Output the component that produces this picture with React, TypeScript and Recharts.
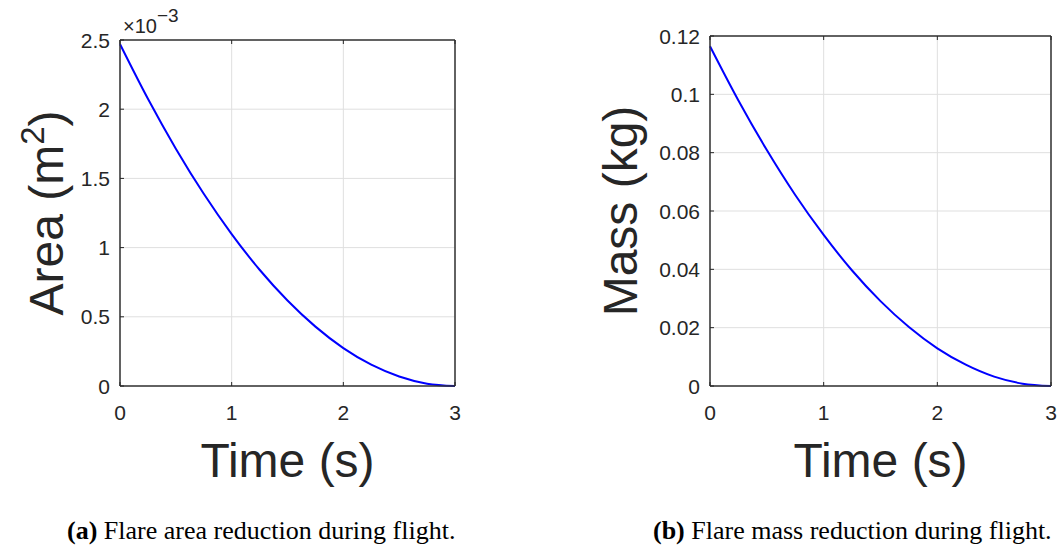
import { LineChart, Line, XAxis, YAxis, CartesianGrid } from 'recharts';

// flight time samples (s)
const timeSeconds = [0, 0.25, 0.5, 0.75, 1, 1.25, 1.5, 1.75, 2, 2.25, 2.5, 2.75, 3];
// flare area, in units of 1e-3 m^2
const areaMilli = [2.47, 2.075, 1.715, 1.389, 1.098, 0.84, 0.618, 0.429, 0.274, 0.154, 0.069, 0.017, 0];
// flare mass (kg)
const massKg = [0.1165, 0.0979, 0.0809, 0.0655, 0.0518, 0.0396, 0.0291, 0.0202, 0.0129, 0.0073, 0.0032, 0.0008, 0];

const timeTicks = [0, 1, 2, 3];
const areaTicks = [0, 0.5, 1, 1.5, 2, 2.5];
const massTicks = [0, 0.02, 0.04, 0.06, 0.08, 0.1, 0.12];

const captions = ['Flare area reduction during flight.', 'Flare mass reduction during flight.'];

const INK = '#262626';
const BOX = '#333333';
const GRID = '#dfdfdf';
const SANS = '"Liberation Sans", Arial, Helvetica, sans-serif';
const SERIF = '"Liberation Serif", "Times New Roman", serif';
const TICK_LEN = 4;
const CHART_H = 500;
const PLOT_BOTTOM = 386;

const areaData = timeSeconds.map((t, i) => ({ t, v: areaMilli[i] }));
const massData = timeSeconds.map((t, i) => ({ t, v: massKg[i] }));

const fmtNum = (v: number) => String(Number(v.toFixed(4)));

function LeftTick({ x, y, payload }: any) {
  return (
    <g>
      <line x1={x} x2={x + TICK_LEN} y1={y} y2={y} stroke={INK} />
      <text x={x - 10} y={y} dy="0.36em" textAnchor="end" fontSize={21} fill={INK} fontFamily={SANS}>
        {fmtNum(payload.value)}
      </text>
    </g>
  );
}

function RightTick({ x, y }: any) {
  return <line x1={x - TICK_LEN} x2={x} y1={y} y2={y} stroke={INK} />;
}

function BottomTick({ x, y, payload }: any) {
  return (
    <g>
      <line x1={x} x2={x} y1={y - TICK_LEN} y2={y} stroke={INK} />
      <text x={x} y={y + 34} textAnchor="middle" fontSize={21} fill={INK} fontFamily={SANS}>
        {payload.value}
      </text>
    </g>
  );
}

function TopTick({ x, y }: any) {
  return <line x1={x} x2={x} y1={y} y2={y + TICK_LEN} stroke={INK} />;
}

interface PanelProps {
  data: { t: number; v: number }[];
  yTicks: number[];
  left: number;
  width: number;
  axisWidth: number;
  top: number;
  rightGap: number;
  titleX: number;
  title: React.ReactNode;
  exponent?: boolean;
}

function Panel({ data, yTicks, left, width, axisWidth, top, rightGap, titleX, title, exponent }: PanelProps) {
  const plotRight = width - rightGap - 5;
  const midX = (axisWidth + plotRight) / 2;
  const midY = (top + PLOT_BOTTOM) / 2;
  const yMax = yTicks[yTicks.length - 1];
  const boxLine = { stroke: BOX, strokeWidth: 1.5 };

  const yTitle = () => (
    <g>
      <text
        x={titleX}
        y={midY}
        textAnchor="middle"
        transform={`rotate(-90, ${titleX}, ${midY})`}
        fontSize={48}
        fill={INK}
        fontFamily={SANS}
      >
        {title}
      </text>
      {exponent && (
        <text x={axisWidth + 3} y={33} fontSize={20} fill={INK} fontFamily={SANS}>
          ×10<tspan fontSize={19} dy={-11}>−3</tspan>
        </text>
      )}
    </g>
  );

  const xTitle = () => (
    <text x={midX} y={477} textAnchor="middle" fontSize={48} fill={INK} fontFamily={SANS}>
      Time (s)
    </text>
  );

  return (
    <div style={{ position: 'absolute', left, top: 0 }}>
      <LineChart width={width} height={CHART_H} data={data} margin={{ top: 0, right: rightGap, bottom: 0, left: 0 }}>
        <CartesianGrid xAxisId="b" yAxisId="l" stroke={GRID} strokeWidth={1} />
        <XAxis
          xAxisId="b"
          dataKey="t"
          type="number"
          domain={[0, 3]}
          ticks={timeTicks}
          height={CHART_H - PLOT_BOTTOM}
          tickSize={0}
          tickMargin={0}
          tickLine={false}
          axisLine={boxLine}
          tick={BottomTick}
          label={xTitle}
        />
        <XAxis
          xAxisId="t"
          orientation="top"
          dataKey="t"
          type="number"
          domain={[0, 3]}
          ticks={timeTicks}
          height={top}
          tickSize={0}
          tickMargin={0}
          tickLine={false}
          axisLine={boxLine}
          tick={TopTick}
        />
        <YAxis
          yAxisId="l"
          type="number"
          domain={[0, yMax]}
          ticks={yTicks}
          width={axisWidth}
          tickSize={0}
          tickMargin={0}
          tickLine={false}
          axisLine={boxLine}
          tick={LeftTick}
          label={yTitle}
        />
        <YAxis
          yAxisId="r"
          orientation="right"
          type="number"
          domain={[0, yMax]}
          ticks={yTicks}
          width={5}
          tickSize={0}
          tickMargin={0}
          tickLine={false}
          axisLine={boxLine}
          tick={RightTick}
        />
        <Line
          xAxisId="b"
          yAxisId="l"
          dataKey="v"
          type="monotone"
          stroke="#0000ff"
          strokeWidth={2}
          dot={false}
          isAnimationActive={false}
        />
      </LineChart>
    </div>
  );
}

export default function App() {
  return (
    <div style={{ position: 'absolute', left: 0, top: 0, width: 1057, height: 549, background: '#fff', overflow: 'hidden' }}>
      <Panel
        data={areaData}
        yTicks={areaTicks}
        left={0}
        width={520}
        axisWidth={120}
        top={40}
        rightGap={60}
        titleX={63}
        exponent
        title={
          <>
            Area (m<tspan fontSize={33} dy={-19}>2</tspan>
            <tspan dy={19}>)</tspan>
          </>
        }
      />
      <Panel
        data={massData}
        yTicks={massTicks}
        left={580}
        width={477}
        axisWidth={130}
        top={36}
        rightGap={1}
        titleX={57}
        title="Mass (kg)"
      />
      <svg width={1057} height={549} style={{ position: 'absolute', left: 0, top: 0, pointerEvents: 'none' }}>
        <text x={67} y={539} fontSize={26} fill="#000" fontFamily={SERIF}>
          <tspan fontWeight="bold">(a)</tspan> {captions[0]}
        </text>
        <text x={653} y={539} fontSize={26} fill="#000" fontFamily={SERIF}>
          <tspan fontWeight="bold">(b)</tspan> {captions[1]}
        </text>
      </svg>
    </div>
  );
}
